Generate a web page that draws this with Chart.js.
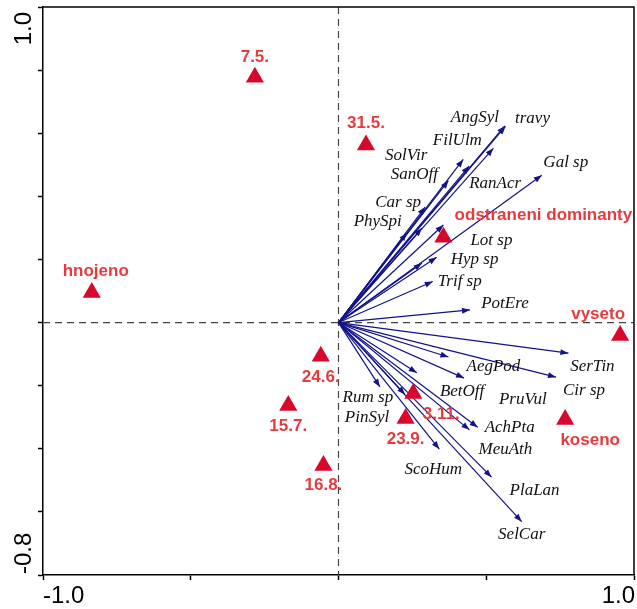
<!DOCTYPE html>
<html>
<head>
<meta charset="utf-8">
<script src="https://cdn.jsdelivr.net/npm/chart.js@4.4.0/dist/chart.umd.min.js"></script>
<style>
  html, body { margin: 0; padding: 0; background: #fff; }
  #wrap { width: 637px; height: 609px; }
</style>
</head>
<body>
<div id="wrap"><canvas id="ordinationChart"></canvas></div>
<script>
// Species scores (arrows from origin)
const speciesNames = ['AngSyl', 'travy', 'FilUlm', 'SolVir', 'RanAcr', 'SanOff', 'Car sp', 'PhySpi', '', 'Lot sp', 'Gal sp', 'Hyp sp', '', 'Trif sp', 'PotEre',
    'SerTin', 'Cir sp', 'AegPod', 'PruVul', 'BetOff', 'Rum sp', 'PinSyl', 'AchPta', 'MeuAth', 'ScoHum', 'PlaLan', 'SelCar'];
const speciesX = [0.563, 0.565, 0.524, 0.422, 0.442, 0.372, 0.293, 0.231, 0.282, 0.355, 0.688, 0.332, 0.282, 0.319, 0.445,
    0.778, 0.736, 0.372, 0.265, 0.425, 0.140, 0.225, 0.471, 0.443, 0.341, 0.518, 0.620];
const speciesY = [0.623, 0.622, 0.552, 0.517, 0.496, 0.450, 0.366, 0.284, 0.299, 0.309, 0.467, 0.207, 0.188, 0.130, 0.040,
    -0.097, -0.173, -0.109, -0.159, -0.176, -0.204, -0.228, -0.332, -0.340, -0.401, -0.490, -0.631];

// Samples / environmental classes (red triangles)
const sampleNames = ['7.5.', 'hnojeno', '31.5.', 'odstraneni dominanty', 'vyseto', 'koseno', '24.6.', '15.7.', '16.8.', '3.11.', '23.9.'];
const sampleX = [-0.283, -0.835, 0.093, 0.355, 0.953, 0.767, -0.060, -0.170, -0.051, 0.253, 0.227];
const sampleY = [0.777, 0.095, 0.563, 0.270, -0.041, -0.307, -0.107, -0.263, -0.453, -0.225, -0.304];

// Tick labels shown at the axis ends only
const xTickLabels = ['-1.0', '1.0'];
const yTickLabels = ['-0.8', '1.0'];

// Label placement (pixels from the point)
const speciesLabelDx = [-30, 27, -36, -57, 26, -34, -27, -29, 0, 48, 24, 38, 0, 27, 35, 24, 28, 45, 106, -2, -12, -38, 32, 36, -6, 43, 0];
const speciesLabelDy = [-8, -8, -8, -4, 17, -6, -5, -11, 0, 15, -13, 2, 0, 0, -6, 13, 13, 10, 27, 13, 11, 23, 0, 20, 20, 13, 13];
const sampleLabelDx = [0, 4, 0, 100, -22, 25, 0, 0, 0, 28, 0];
const sampleLabelDy = [-20, -21, -22, -22, -21, 21, 21, 21, 20, 21, 21];

const arrowColor = '#12128a';
const triangleColor = '#d8072c';
const sampleTextColor = '#e63a3f';

// Dashed zero lines, frame, arrowheads and all text
const biplotPlugin = {
    id: 'biplot',
    beforeDatasetsDraw(chart) {
        const ctx = chart.ctx;
        const xs = chart.scales.x, ys = chart.scales.y;
        const area = chart.chartArea;
        const x0 = xs.getPixelForValue(0), y0 = ys.getPixelForValue(0);
        ctx.save();
        ctx.strokeStyle = '#444';
        ctx.lineWidth = 1.2;
        ctx.setLineDash([7, 5]);
        ctx.beginPath();
        ctx.moveTo(x0, area.top);
        ctx.lineTo(x0, area.bottom);
        ctx.moveTo(area.left, y0);
        ctx.lineTo(area.right, y0);
        ctx.stroke();
        ctx.restore();
    },
    afterDatasetsDraw(chart) {
        const ctx = chart.ctx;
        const xs = chart.scales.x, ys = chart.scales.y;
        const x0 = xs.getPixelForValue(0), y0 = ys.getPixelForValue(0);
        ctx.save();

        // arrowheads
        ctx.fillStyle = arrowColor;
        speciesX.forEach((v, i) => {
            const px = xs.getPixelForValue(v);
            const py = ys.getPixelForValue(speciesY[i]);
            const a = Math.atan2(py - y0, px - x0);
            ctx.beginPath();
            ctx.moveTo(px, py);
            ctx.lineTo(px - 8 * Math.cos(a) + 3 * Math.sin(a), py - 8 * Math.sin(a) - 3 * Math.cos(a));
            ctx.lineTo(px - 8 * Math.cos(a) - 3 * Math.sin(a), py - 8 * Math.sin(a) + 3 * Math.cos(a));
            ctx.closePath();
            ctx.fill();
        });

        // species labels
        ctx.font = 'italic 17px "Liberation Serif", "Times New Roman", serif';
        ctx.fillStyle = '#111';
        ctx.textAlign = 'center';
        ctx.textBaseline = 'middle';
        speciesNames.forEach((name, i) => {
            if (!name) return;
            ctx.fillText(name, xs.getPixelForValue(speciesX[i]) + speciesLabelDx[i], ys.getPixelForValue(speciesY[i]) + speciesLabelDy[i]);
        });

        // sample labels
        ctx.font = 'bold 17px "Liberation Sans", Arial, sans-serif';
        ctx.fillStyle = sampleTextColor;
        sampleNames.forEach((name, i) => {
            ctx.fillText(name, xs.getPixelForValue(sampleX[i]) + sampleLabelDx[i], ys.getPixelForValue(sampleY[i]) + sampleLabelDy[i]);
        });
        ctx.restore();
    },
    afterDraw(chart) {
        const ctx = chart.ctx;
        const xs = chart.scales.x, ys = chart.scales.y;
        const area = chart.chartArea;
        ctx.save();

        // top and right sides of the frame
        ctx.strokeStyle = '#000';
        ctx.lineWidth = 1.5;
        ctx.beginPath();
        ctx.moveTo(area.left, area.top);
        ctx.lineTo(area.right, area.top);
        ctx.lineTo(area.right, area.bottom);
        ctx.stroke();

        ctx.fillStyle = '#000';
        ctx.font = '24px "Liberation Sans", Arial, sans-serif';
        ctx.textBaseline = 'middle';

        // x end labels
        const xLabelY = area.bottom + 21;
        ctx.textAlign = 'left';
        ctx.fillText(xTickLabels[0], xs.getPixelForValue(xs.min), xLabelY);
        ctx.textAlign = 'right';
        ctx.fillText(xTickLabels[1], xs.getPixelForValue(xs.max) + 1, xLabelY);

        // y end labels, rotated
        const yLabelX = area.left - 19;
        ctx.save();
        ctx.translate(yLabelX, ys.getPixelForValue(ys.min) - 1);
        ctx.rotate(-Math.PI / 2);
        ctx.textAlign = 'left';
        ctx.fillText(yTickLabels[0], 0, 0);
        ctx.restore();
        ctx.save();
        ctx.translate(yLabelX, ys.getPixelForValue(ys.max) + 5);
        ctx.rotate(-Math.PI / 2);
        ctx.textAlign = 'right';
        ctx.fillText(yTickLabels[1], 0, 0);
        ctx.restore();

        ctx.restore();
    }
};

function buildDatasets() {
    const datasets = [];

    // red triangles for the samples
    datasets.push({
        label: 'samples',
        data: sampleX.map((x, i) => ({ x: x, y: sampleY[i] })),
        pointStyle: 'triangle',
        pointRadius: 10.5,
        backgroundColor: triangleColor,
        borderWidth: 0,
        order: 0
    });

    // one line per species arrow
    speciesX.forEach((x, i) => {
        datasets.push({
            label: speciesNames[i],
            data: [{ x: 0, y: 0 }, { x: x, y: speciesY[i] }],
            showLine: true,
            borderColor: arrowColor,
            borderWidth: 1.2,
            pointRadius: 0,
            fill: false,
            order: 1
        });
    });
    return datasets;
}

function initializeChart() {
    const ctx = document.getElementById('ordinationChart').getContext('2d');
    new Chart(ctx, {
        type: 'scatter',
        data: { datasets: buildDatasets() },
        options: {
            responsive: true,
            maintainAspectRatio: false,
            animation: false,
            events: [],
            layout: { autoPadding: false, padding: { left: 38, right: 3, top: 7, bottom: 29 } },
            plugins: {
                legend: { display: false },
                tooltip: { enabled: false }
            },
            scales: {
                x: {
                    type: 'linear',
                    min: -1,
                    max: 1,
                    ticks: { stepSize: 0.5, display: false },
                    grid: { display: true, drawOnChartArea: false, drawTicks: true, tickLength: 5, tickColor: '#000', tickWidth: 1.5 },
                    border: { display: true, color: '#000', width: 1.5 }
                },
                y: {
                    type: 'linear',
                    min: -0.8,
                    max: 1.0,
                    ticks: { stepSize: 0.2, display: false },
                    grid: { display: true, drawOnChartArea: false, drawTicks: true, tickLength: 5, tickColor: '#000', tickWidth: 1.5 },
                    border: { display: true, color: '#000', width: 1.5 }
                }
            }
        },
        plugins: [biplotPlugin]
    });
}

window.onload = function () {
    initializeChart();
};
</script>
</body>
</html>
